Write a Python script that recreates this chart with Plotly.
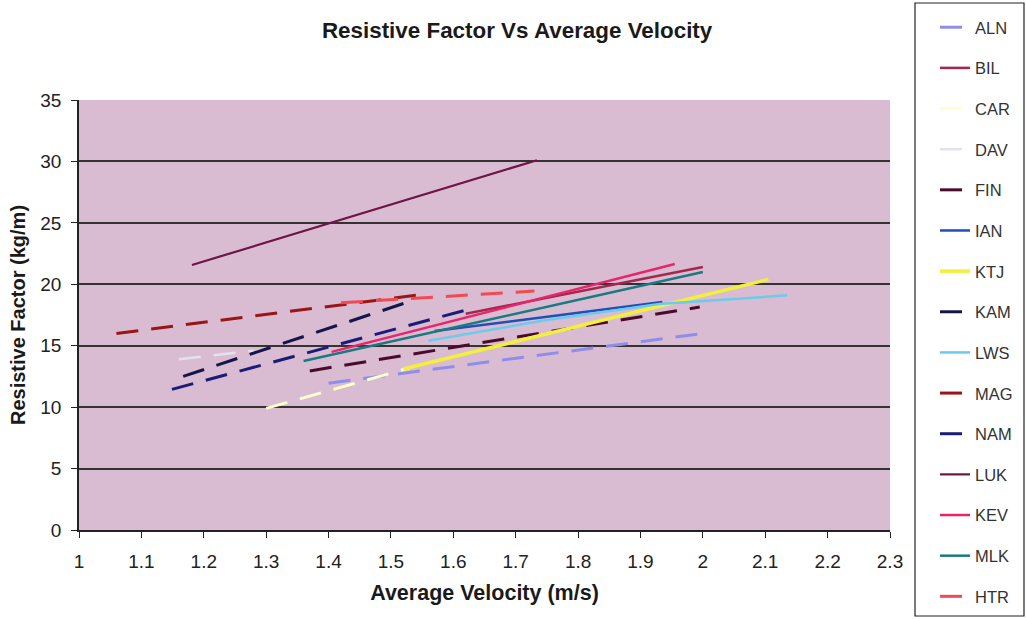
import plotly.graph_objects as go

# Series data: average velocity (m/s) vs resistive factor (kg/m)
names = ["ALN", "BIL", "CAR", "DAV", "FIN", "IAN", "KTJ", "KRS",
         "KAM", "LWS", "MAG", "NAM", "LUK", "KEV", "MLK", "HTR"]

aln_x = [1.40, 2.00]
aln_y = [11.95, 16.0]
bil_x = [1.62, 2.00]
bil_y = [17.6, 21.4]
car_x = [1.30, 1.53]
car_y = [9.9, 13.2]
dav_x = [1.16, 1.28]
dav_y = [13.9, 14.6]
fin_x = [1.37, 1.995]
fin_y = [12.95, 18.15]
ian_x = [1.57, 1.935]
ian_y = [16.2, 18.55]
ktj_x = [1.52, 2.105]
ktj_y = [13.1, 20.4]
krs_x = []
krs_y = []
kam_x = [1.167, 1.53]
kam_y = [12.5, 18.6]
lws_x = [1.56, 1.75, 1.93, 2.135]
lws_y = [15.4, 17.1, 18.4, 19.1]
mag_x = [1.06, 1.54]
mag_y = [16.0, 19.1]
nam_x = [1.149, 1.62]
nam_y = [11.45, 17.9]
luk_x = [1.181, 1.734]
luk_y = [21.57, 30.1]
kev_x = [1.405, 1.955]
kev_y = [14.5, 21.65]
mlk_x = [1.36, 2.0]
mlk_y = [13.75, 21.0]
htr_x = [1.42, 1.73]
htr_y = [18.5, 19.45]

xs = [aln_x, bil_x, car_x, dav_x, fin_x, ian_x, ktj_x, krs_x,
      kam_x, lws_x, mag_x, nam_x, luk_x, kev_x, mlk_x, htr_x]
ys = [aln_y, bil_y, car_y, dav_y, fin_y, ian_y, ktj_y, krs_y,
      kam_y, lws_y, mag_y, nam_y, luk_y, kev_y, mlk_y, htr_y]

DASH = "22px,13px"
styles = {
    "ALN": ("#8E8EEA", DASH, 3),
    "BIL": ("#A3274F", "solid", 2.5),
    "CAR": ("#FFFFCC", DASH, 3),
    "DAV": ("#E4E2F0", DASH, 2.5),
    "FIN": ("#4A0A2A", DASH, 3),
    "IAN": ("#1F4FB8", "solid", 2.5),
    "KTJ": ("#F2F03A", "solid", 3.5),
    "KRS": ("#FFFFFF", "solid", 2.5),
    "KAM": ("#15154A", DASH, 3),
    "LWS": ("#6CCBEA", "solid", 2.5),
    "MAG": ("#9A1515", DASH, 3),
    "NAM": ("#1B1B78", DASH, 3),
    "LUK": ("#6E1446", "solid", 2.2),
    "KEV": ("#E8256B", "solid", 2.5),
    "MLK": ("#1A7A80", "solid", 2.5),
    "HTR": ("#F04A55", DASH, 3),
}

fig = go.Figure()
for n, x, y in zip(names, xs, ys):
    color, dash, width = styles[n]
    fig.add_trace(go.Scatter(
        x=x, y=y, name=n, mode="lines", legendgroup=n,
        line=dict(color=color, dash=dash, width=width),
    ))

FAMILY = "Liberation Sans, Arial, sans-serif"
AX_FONT = dict(family=FAMILY, size=19, color="#222222")
xticks = [1, 1.1, 1.2, 1.3, 1.4, 1.5, 1.6, 1.7, 1.8, 1.9, 2, 2.1, 2.2, 2.3]

fig.update_layout(
    width=1026, height=619,
    margin=dict(l=79, r=136, t=100, b=89, autoexpand=False),
    paper_bgcolor="white",
    plot_bgcolor="#D9BCD2",
    title=dict(
        text="<b>Resistive Factor Vs Average Velocity</b>",
        x=0.504, xanchor="center", y=0.952, yanchor="middle",
        font=dict(family=FAMILY, size=22.4, color="#1a1a1a"),
    ),
    xaxis=dict(
        range=[1, 2.3], tickvals=xticks, ticktext=[f"{v:g}" for v in xticks],
        showgrid=False, zeroline=False,
        showline=True, linecolor="#222222", linewidth=1.5,
        ticks="outside", ticklen=6, tickcolor="#222222",
        ticklabelstandoff=7,
        tickfont=AX_FONT,
        title=dict(text="<b>Average Velocity (m/s)</b>", standoff=14,
                   font=dict(family=FAMILY, size=21.5, color="#1a1a1a")),
    ),
    yaxis=dict(
        range=[0, 35], tickvals=[0, 5, 10, 15, 20, 25, 30, 35],
        showgrid=True, gridcolor="#333333", gridwidth=1.5, zeroline=False,
        showline=True, linecolor="#222222", linewidth=1.5,
        ticks="outside", ticklen=6, tickcolor="#222222",
        ticklabelstandoff=6,
        tickfont=AX_FONT,
        title=dict(text="<b>Resistive Factor (kg/m)</b>", standoff=9,
                   font=dict(family=FAMILY, size=20, color="#1a1a1a")),
    ),
    legend=dict(
        x=(935 - 79) / 811, xanchor="left",
        y=1 + 90 / 430, yanchor="top",
        bgcolor="rgba(0,0,0,0)", borderwidth=0,
        font=dict(family=FAMILY, size=16.5, color="#333333"),
        tracegroupgap=16.2, itemwidth=30, maxheight=900,
    ),
    shapes=[dict(
        type="rect", xref="paper", yref="paper",
        x0=(915 - 79) / 811, x1=(1024 - 79) / 811,
        y0=-(616 - 530) / 430, y1=1 + 97 / 430,
        line=dict(color="#222222", width=1.2), fillcolor="rgba(0,0,0,0)", layer="below",
    )],
)

fig.write_html("out.html")
